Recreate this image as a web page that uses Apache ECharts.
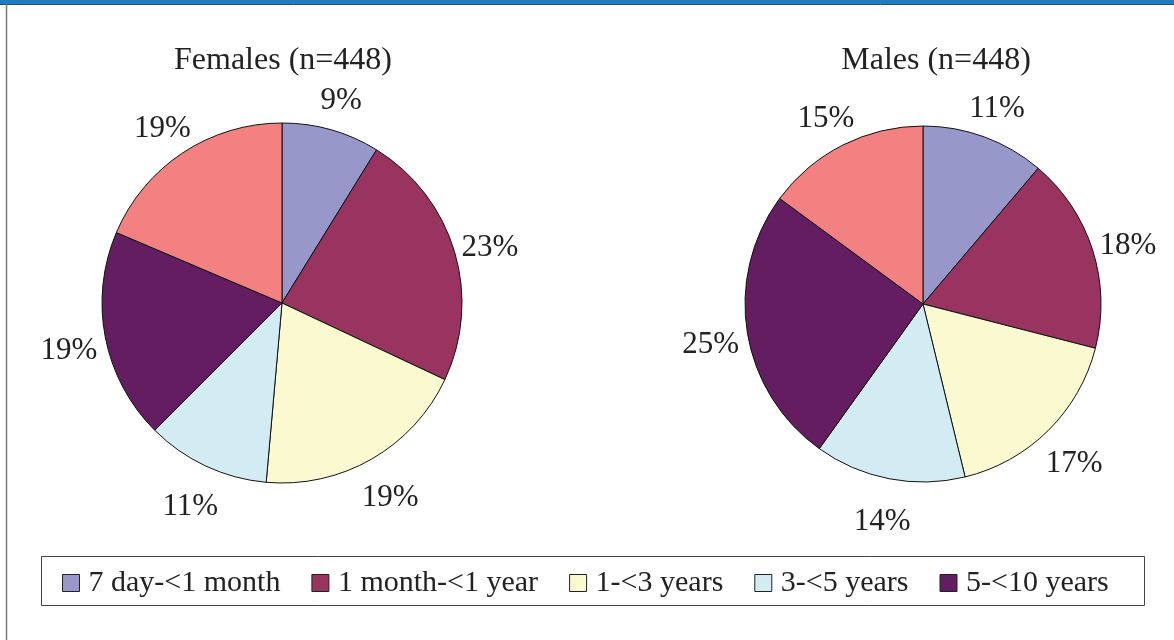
<!DOCTYPE html>
<html>
<head>
<meta charset="utf-8">
<script src="https://cdn.jsdelivr.net/npm/echarts@6/dist/echarts.min.js"></script>
<style>
  html, body { margin: 0; padding: 0; background: #fff; }
  #chart { width: 1174px; height: 640px; }
</style>
</head>
<body>
<div id="chart"></div>
<script>
const categories = ['7 day-<1 month', '1 month-<1 year', '1-<3 years', '3-<5 years', '5-<10 years', '10+ years']
const legendItems = ['7 day-<1 month', '1 month-<1 year', '1-<3 years', '3-<5 years', '5-<10 years']
const femaleShare = [8.8, 23.2, 19.4, 11.1, 18.9, 18.6]
const maleShare = [11.2, 17.8, 17.2, 13.7, 25.2, 14.9]
const colors = ['#9797c9', '#99335f', '#fbf9d0', '#d3ecf3', '#641d60', '#f48181']

const font = 'Liberation Serif'
const chart = echarts.init(document.getElementById('chart'))

function pieSeries(name, values, center, radius) {
  return {
    name,
    type: 'pie',
    center,
    radius,
    startAngle: 90,
    clockwise: true,
    avoidLabelOverlap: false,
    silent: true,
    itemStyle: { borderColor: '#111', borderWidth: 1 },
    label: {
      show: true,
      position: 'outside',
      fontFamily: font,
      fontSize: 31,
      color: '#222',
      distanceToLabelLine: 0,
      formatter: (p) => Math.round(p.percent) + '%',
    },
    labelLine: { show: false, length: 37, length2: 0 },
    // centre each label on its anchor point, like the original
    labelLayout: (p) => ({
      dx: p.align === 'right' ? p.labelRect.width / 2 : -p.labelRect.width / 2,
      dy: 7,
    }),
    data: categories.map((c, i) => ({ name: c, value: values[i], itemStyle: { color: colors[i] } })),
  }
}

chart.setOption({
  backgroundColor: '#fff',
  animation: false,
  title: [
    { text: 'Females (n=448)', left: 278, top: 40, textAlign: 'center', textStyle: { fontFamily: font, fontSize: 32, fontWeight: 'normal', color: '#222' } },
    { text: 'Males (n=448)', left: 931, top: 40, textAlign: 'center', textStyle: { fontFamily: font, fontSize: 32, fontWeight: 'normal', color: '#222' } },
  ],
  legend: {
    data: legendItems,
    left: 62,
    top: 568,
    padding: 0,
    icon: 'rect',
    itemWidth: 17,
    itemHeight: 17,
    itemGap: 31,
    selectedMode: false,
    itemStyle: { borderColor: '#222', borderWidth: 1 },
    textStyle: { fontFamily: font, fontSize: 30, color: '#222', padding: [0, 0, 0, 4] },
  },
  graphic: [
    { type: 'rect', shape: { x: 0, y: 0, width: 1174, height: 4 }, style: { fill: '#1f7cc0' } },
    { type: 'line', shape: { x1: 0, y1: 4.5, x2: 1174, y2: 4.5 }, style: { stroke: '#2a4a66', lineWidth: 1 } },
    { type: 'line', shape: { x1: 6.5, y1: 4, x2: 6.5, y2: 640 }, style: { stroke: '#777', lineWidth: 1.5 } },
    { type: 'rect', shape: { x: 41.5, y: 556.5, width: 1103, height: 49 }, style: { fill: 'none', stroke: '#444', lineWidth: 1 } },
  ],
  series: [
    pieSeries('Females', femaleShare, [282, 303], 180),
    pieSeries('Males', maleShare, [923, 304], 178),
  ],
})

window.addEventListener('resize', () => chart.resize())
</script>
</body>
</html>
